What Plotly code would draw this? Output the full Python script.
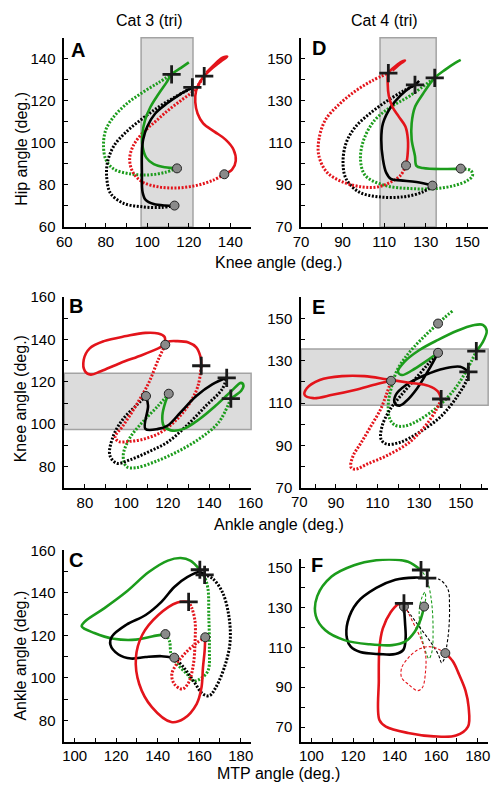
import plotly.graph_objects as go

GREEN = "#1c9c1c"
RED = "#e3141b"
BLACK = "#000000"
FONT = "Liberation Sans, Arial, sans-serif"

# ---------------- Panel A (Cat 3): knee (x) vs hip (y) ----------------
a_grn_sol_x = [114.3,108.5,103.1,99.5,97.7,97.7,98.9,101.5,105.4,109.2,111.7,116.2,120.0]
a_grn_sol_y = [87.9,88.4,89.9,93.0,98.4,104.7,110.9,117.1,123.3,128.7,132.6,135.7,138.3]
a_grn_dot_x = [114.3,108.5,100.8,91.5,83.8,80.0,78.9,80.0,83.8,90.0,97.7,105.4,111.7]
a_grn_dot_y = [87.9,86.0,84.8,85.3,87.6,92.2,99.2,106.2,112.4,118.6,124.0,128.7,132.6]
a_blk_sol_x = [113.1,108.5,103.1,99.2,97.7,97.4,97.4,98.0,100.0,103.8,109.2,115.4,121.7]
a_blk_sol_y = [70.2,70.2,70.9,72.9,76.7,86.0,95.3,101.6,107.8,114.0,118.6,122.9,126.4]
a_blk_dot_x = [113.1,106.9,97.7,88.5,82.3,80.5,80.8,83.8,90.0,97.7,105.4,113.1,121.7]
a_blk_dot_y = [70.2,69.3,69.6,71.3,76.0,82.9,90.7,98.4,105.4,111.6,117.1,121.7,126.4]
a_red_sol_x = [137.1,140.8,142.6,141.5,137.7,132.3,126.9,124.2,123.1,123.5,125.4,127.4,131.5,135.4,138.5,136.0,132.0,128.5]
a_red_sol_y = [85.1,87.3,91.5,96.9,101.6,105.4,109.3,114.0,119.4,124.8,129.1,131.8,135.7,138.8,141.1,140.5,137.0,133.5]
a_red_dot_x = [137.1,131.5,123.8,114.6,105.4,97.7,93.1,91.5,93.1,97.7,103.8,110.0,116.2,122.3,127.4]
a_red_dot_y = [85.1,82.2,79.8,78.6,79.1,81.4,86.0,92.2,98.4,104.7,110.1,115.5,120.2,124.8,131.8]
a_circ_x = [114.3,113.1,137.1]
a_circ_y = [87.9,70.2,85.1]
a_plus_x = [111.7,121.7,127.4]
a_plus_y = [132.6,126.4,131.8]

# ---------------- Panel D (Cat 4): knee vs hip ----------------
d_red_sol_x = [120.5,121.2,121.4,120.2,117.1,114.0,112.2,111.7,112.0,114.8,117.8,120.0,117.5,114.0]
d_red_sol_y = [99.3,103.8,111.6,117.8,122.4,127.1,132.5,137.9,143.2,146.0,148.3,149.2,147.5,144.4]
d_red_dot_x = [120.5,117.8,113.2,107.1,99.4,90.2,82.5,78.6,78.6,81.7,88.6,96.3,104.0,112.0]
d_red_dot_y = [99.3,94.5,91.4,89.1,89.1,91.4,96.0,103.8,111.6,120.9,128.6,134.8,139.5,143.2]
d_blk_sol_x = [133.2,125.5,117.8,113.2,110.9,109.4,108.6,109.4,113.2,117.8,122.5,124.8,126.8]
d_blk_sol_y = [89.7,91.4,92.2,92.9,96.0,102.2,111.6,119.3,127.1,132.5,136.4,137.6,139.5]
d_blk_dot_x = [133.2,128.6,119.4,107.1,97.8,91.7,90.2,91.7,96.3,104.0,111.7,119.4,124.8]
d_blk_dot_y = [89.7,86.7,84.4,84.4,86.7,92.9,100.7,110.0,117.8,124.7,130.2,134.8,137.6]
d_grn_sol_x = [146.8,137.8,128.6,125.5,124.8,123.2,123.2,124.8,128.6,134.3,139.4,144.0,146.8]
d_grn_sol_y = [97.8,97.6,98.1,99.1,103.8,111.6,119.3,127.1,133.3,141.0,144.9,148.0,149.5]
d_grn_dot_x = [146.8,151.7,152.5,150.2,144.0,134.8,122.5,110.2,100.9,98.6,100.2,105.5,113.2,122.5,134.3]
d_grn_dot_y = [97.8,96.8,94.5,92.2,89.8,88.3,88.3,89.8,94.5,102.2,111.6,120.9,127.1,132.5,141.0]
d_circ_x = [146.8,133.2,120.5]
d_circ_y = [97.8,89.7,99.3]
d_plus_x = [134.3,124.8,112.0]
d_plus_y = [141.0,137.6,143.2]

# ---------------- Panel B (Cat 3): ankle vs knee ----------------
b_red_sol_x = [136.2,135.8,133.8,130.0,124.6,120.0,118.8,118.5,115.4,109.2,100.0,89.2,82.3,79.4,80.0,82.8,87.7,96.9,107.7,115.4,118.8]
b_red_sol_y = [127.6,131.9,136.3,138.6,139.2,138.9,137.5,141.2,142.8,143.1,141.6,139.2,135.8,130.4,125.0,123.4,125.0,128.8,132.7,135.8,137.5]
b_red_dot_x = [118.8,115.4,110.8,104.6,98.5,94.6,96.2,101.5,109.2,116.9,124.6,130.8,134.6,136.2]
b_red_dot_y = [137.5,130.4,119.5,108.7,99.4,94.0,91.9,91.9,93.2,96.3,102.5,110.2,118.0,127.6]
b_blk_sol_x = [109.5,110.5,109.2,115.4,120.0,126.2,133.8,141.5,148.5]
b_blk_sol_y = [113.3,108.7,97.8,97.8,99.4,105.6,113.3,118.8,121.9]
b_blk_dot_x = [109.5,104.6,98.5,93.8,92.0,95.4,101.5,110.8,120.0,129.2,138.5,146.2,148.5]
b_blk_dot_y = [113.3,108.7,102.5,94.7,85.4,81.6,83.1,87.0,91.6,99.4,108.7,116.4,121.9]
b_grn_sol_x = [120.5,118.8,117.4,118.0,121.5,127.7,135.4,143.1,150.8,155.4,156.6,155.4,152.3,150.5]
b_grn_sol_y = [114.4,110.2,104.0,99.4,97.1,97.8,102.5,108.7,115.7,119.5,118.3,115.7,113.3,112.1]
b_grn_dot_x = [120.5,115.4,107.7,101.5,98.5,100.0,104.6,113.8,124.6,135.4,144.6,150.5]
b_grn_dot_y = [114.4,108.7,100.9,93.2,85.4,80.0,79.5,82.3,87.0,93.2,100.9,112.1]
b_circ_x = [120.5,109.5,118.8]
b_circ_y = [114.4,113.3,137.5]
b_plus_x = [150.5,148.5,136.2]
b_plus_y = [112.1,121.9,127.6]

# ---------------- Panel E (Cat 4): ankle vs knee ----------------
e_red_sol_x = [116.5,109.8,99.1,88.3,79.1,74.9,76.0,82.2,92.9,103.7,114.5,125.2,134.5,139.1,140.6]
e_red_sol_y = [120.5,119.0,116.2,113.9,112.3,113.9,117.0,120.9,122.7,122.7,121.2,119.6,118.1,115.4,111.9]
e_red_dot_x = [140.6,138.3,132.9,125.2,114.5,105.2,99.1,97.2,98.3,102.2,106.8,111.4,114.5,116.5]
e_red_dot_y = [111.9,106.9,99.1,91.4,85.2,81.3,78.7,79.8,85.2,91.4,99.1,106.9,114.7,120.5]
e_blk_sol_x = [153.7,149.8,142.2,132.9,123.7,118.8,118.3,120.6,123.7,129.1,134.5,139.1]
e_blk_sol_y = [124.7,127.1,126.3,123.2,118.5,113.9,110.0,108.8,110.8,117.0,125.5,133.7]
e_blk_dot_x = [139.1,134.5,128.3,122.2,116.0,112.2,111.7,114.5,120.6,129.8,140.6,148.3,152.9,153.7]
e_blk_dot_y = [133.7,128.6,121.6,114.7,106.9,99.1,92.9,90.6,91.4,96.0,103.8,113.1,120.9,124.7]
e_grn_sol_x = [157.5,160.6,162.5,160.6,156.0,148.3,139.1,129.8,122.9,119.8,121.8,126.8,132.9,139.1]
e_grn_sol_y = [134.5,138.7,144.1,146.9,146.7,144.1,139.8,134.8,129.4,124.7,123.2,125.5,129.4,133.7]
e_grn_dot_x = [146.0,142.2,139.1,133.7,127.5,122.9,119.4,116.8,115.2,115.7,118.3,122.9,129.8,139.1,146.8,152.9,157.5]
e_grn_dot_y = [153.4,150.3,147.5,142.6,136.4,130.9,125.5,117.8,110.0,103.0,99.6,99.1,101.9,108.4,116.2,125.5,134.5]
e_circ_x = [139.1,139.1,116.5]
e_circ_y = [147.5,133.7,120.5]
e_plus_x = [157.5,153.7,140.6]
e_plus_y = [134.5,124.7,111.9]

# ---------------- Panel C (Cat 3): MTP vs ankle ----------------
c_grn_sol_x = [160.3,155.7,151.1,144.9,135.7,124.9,114.2,104.9,103.4,109.5,118.8,129.5,137.2,143.7]
c_grn_sol_y = [150.9,155.2,156.4,155.2,149.8,140.5,132.7,126.5,124.2,121.1,118.4,118.0,119.5,120.6]
c_grn_dot_x = [143.7,145.7,146.5,149.5,154.2,157.2,160.3,164.2,164.9,164.6,164.2,162.6,160.3]
c_grn_dot_y = [120.6,117.2,111.0,106.4,101.7,98.6,99.4,103.3,114.1,129.6,142.0,147.4,150.9]
c_blk_sol_x = [162.6,160.3,154.2,148.0,141.8,134.2,124.9,118.0,117.2,121.1,127.2,134.2,141.8,148.0]
c_blk_sol_y = [148.5,149.8,147.4,142.8,135.8,129.6,125.0,119.5,115.7,111.0,109.1,109.8,110.2,109.5]
c_blk_dot_x = [148.0,152.6,157.2,161.8,164.9,168.0,172.6,174.9,174.2,171.1,166.5,162.6]
c_blk_dot_y = [109.5,104.8,98.6,92.4,91.6,95.5,106.4,117.2,129.6,140.5,146.7,148.5]
c_red_sol_x = [154.9,149.5,140.3,132.6,129.5,131.1,137.2,146.5,152.6,158.8,161.1,161.8,162.6,162.9]
c_red_sol_y = [135.8,135.5,129.6,120.3,109.5,97.1,86.2,79.2,80.8,87.8,95.5,104.8,112.6,119.1]
c_red_dot_x = [162.9,158.8,154.2,149.5,146.8,148.0,151.8,154.9,157.2,158.0,158.0,156.5,154.9]
c_red_dot_y = [119.1,116.4,112.6,107.1,101.7,97.1,94.7,97.8,106.4,117.2,126.5,132.7,135.8]
c_circ_x = [143.7,148.0,162.9]
c_circ_y = [120.6,109.5,119.1]
c_plus_x = [160.3,162.6,154.9]
c_plus_y = [150.9,148.5,135.8]

# ---------------- Panel F (Cat 4): MTP vs ankle ----------------
f_grn_sol_x = [152.6,146.5,140.4,131.2,120.5,109.7,102.8,102.1,106.7,115.9,128.1,138.9,145.0,149.6,152.6,154.2]
f_grn_sol_y = [148.7,152.8,153.9,153.6,151.1,145.4,135.6,125.8,118.5,113.6,111.5,111.1,112.8,117.7,124.2,130.4]
f_grn_dot_x = [154.2,154.9,154.6,153.4,151.9,152.6,154.9,156.5,158.0,158.5,158.0,156.5,154.9,152.6]
f_grn_dot_y = [130.4,134.0,137.6,135.6,129.1,117.7,107.9,104.3,107.9,117.7,130.7,140.5,145.4,148.7]
f_blk_sol_x = [155.7,149.6,140.4,131.2,122.0,117.4,117.1,118.9,123.5,132.7,140.4,144.2,145.3,145.0,144.5]
f_blk_sol_y = [144.6,144.9,143.8,139.7,132.4,122.6,114.4,110.3,107.6,106.6,106.6,108.7,114.4,122.6,130.4]
f_blk_dot_x = [144.5,148.0,152.6,157.2,161.1,162.6,163.7,164.9,166.1,166.4,165.7,161.8,155.7]
f_blk_dot_y = [130.4,125.8,119.3,112.8,106.2,102.2,103.8,109.5,119.3,130.7,138.9,143.8,144.6]
f_red_sol_x = [144.5,141.9,138.1,134.3,132.7,132.4,132.7,135.8,146.5,158.8,169.5,175.3,175.6,174.1,171.0,168.0,164.4]
f_red_sol_y = [132.0,131.6,127.5,119.3,109.5,93.2,73.6,70.3,67.1,65.4,65.8,70.3,80.1,88.3,96.4,103.0,107.1]
f_red_dot_x = [164.4,160.3,155.7,151.1,146.5,143.4,143.4,146.5,151.1,153.4,154.9,154.9,152.6,149.6,146.5,144.5]
f_red_dot_y = [107.1,109.5,110.3,108.7,104.6,99.7,94.8,91.6,88.3,89.9,98.1,106.2,114.4,120.9,127.5,132.0]
f_circ_x = [154.2,144.5,164.4]
f_circ_y = [130.4,130.4,107.1]
f_plus_x = [152.7,155.7,144.5]
f_plus_y = [148.7,144.6,132.0]

# shaded joint ranges
a_shade_x = [97, 122]
d_shade_x = [108, 135]
b_shade_y = [97.5, 124]
e_shade_y = [109, 135.5]

# axis ranges and tick labels
a_xr, a_yr, a_xt, a_yt = [60, 150], [60, 150], [60, 80, 100, 120, 140], [60, 80, 100, 120, 140]
d_xr, d_yr, d_xt, d_yt = [70, 160], [70, 160], [70, 90, 110, 130, 150], [70, 90, 110, 130, 150]
b_xr, b_yr, b_xt, b_yt = [70, 160.3], [70, 160], [80, 100, 120, 140, 160], [80, 100, 120, 140, 160]
e_xr, e_yr, e_xt, e_yt = [73.2, 163.2], [70, 160], [90, 110, 130, 150], [70, 90, 110, 130, 150]
c_xr, c_yr, c_xt, c_yt = [95, 185], [70, 160], [100, 120, 140, 160, 180], [80, 100, 120, 140, 160]
f_xr, f_yr, f_xt, f_yt = [95, 185], [62.8, 154.4], [100, 120, 140, 160, 180], [70, 90, 110, 130, 150]

# The page body has an 8px default margin: the figure is drawn from (8, 8).
OFF = 8
W, H = 496, 780

def PX(p):
    return (p - OFF) / W

def PY(p):
    return 1 - (p - OFF) / H

LX = [PX(58.3), PX(253)]
RX = [PX(305), PX(500)]
R1 = [PY(222.7), PY(29.3)]
R2 = [PY(489.3), PY(294.3)]
R3 = [PY(748.7), PY(553.3)]
R3F = [PY(748.7), PY(561.7)]

fig = go.Figure()

def add_panel(k, series, cx, cy, px, py, thin_dots=False):
    xa, ya = "x" + ("" if k == 1 else str(k)), "y" + ("" if k == 1 else str(k))
    for (x, y, color, style) in series:
        if style == "dot":
            if thin_dots:
                line = dict(color=color, width=1.1, dash="3px,2px", shape="spline", smoothing=1.0)
            else:
                line = dict(color=color, width=3, dash="2px,1.6px", shape="spline", smoothing=1.0)
        else:
            line = dict(color=color, width=2.6, shape="spline", smoothing=1.0)
        fig.add_trace(go.Scatter(x=x, y=y, mode="lines", line=line, xaxis=xa, yaxis=ya,
                                 hoverinfo="skip", showlegend=False))
    fig.add_trace(go.Scatter(x=cx, y=cy, mode="markers", xaxis=xa, yaxis=ya, showlegend=False,
                             marker=dict(symbol="circle", size=9, color="#8a8a8a",
                                         line=dict(color="#222222", width=1))))
    fig.add_trace(go.Scatter(x=px, y=py, mode="markers", xaxis=xa, yaxis=ya, showlegend=False,
                             marker=dict(symbol="cross-thin", size=13,
                                         line=dict(color="#1a1a1a", width=2.8))))

add_panel(1, [(a_grn_dot_x, a_grn_dot_y, GREEN, "dot"), (a_blk_dot_x, a_blk_dot_y, BLACK, "dot"),
              (a_red_dot_x, a_red_dot_y, RED, "dot"), (a_grn_sol_x, a_grn_sol_y, GREEN, "sol"),
              (a_blk_sol_x, a_blk_sol_y, BLACK, "sol"), (a_red_sol_x, a_red_sol_y, RED, "sol")],
          a_circ_x, a_circ_y, a_plus_x, a_plus_y)
add_panel(2, [(b_grn_dot_x, b_grn_dot_y, GREEN, "dot"), (b_blk_dot_x, b_blk_dot_y, BLACK, "dot"),
              (b_red_dot_x, b_red_dot_y, RED, "dot"), (b_grn_sol_x, b_grn_sol_y, GREEN, "sol"),
              (b_blk_sol_x, b_blk_sol_y, BLACK, "sol"), (b_red_sol_x, b_red_sol_y, RED, "sol")],
          b_circ_x, b_circ_y, b_plus_x, b_plus_y)
add_panel(3, [(c_grn_dot_x, c_grn_dot_y, GREEN, "dot"), (c_blk_dot_x, c_blk_dot_y, BLACK, "dot"),
              (c_red_dot_x, c_red_dot_y, RED, "dot"), (c_grn_sol_x, c_grn_sol_y, GREEN, "sol"),
              (c_blk_sol_x, c_blk_sol_y, BLACK, "sol"), (c_red_sol_x, c_red_sol_y, RED, "sol")],
          c_circ_x, c_circ_y, c_plus_x, c_plus_y)
add_panel(4, [(d_grn_dot_x, d_grn_dot_y, GREEN, "dot"), (d_blk_dot_x, d_blk_dot_y, BLACK, "dot"),
              (d_red_dot_x, d_red_dot_y, RED, "dot"), (d_grn_sol_x, d_grn_sol_y, GREEN, "sol"),
              (d_blk_sol_x, d_blk_sol_y, BLACK, "sol"), (d_red_sol_x, d_red_sol_y, RED, "sol")],
          d_circ_x, d_circ_y, d_plus_x, d_plus_y)
add_panel(5, [(e_grn_dot_x, e_grn_dot_y, GREEN, "dot"), (e_blk_dot_x, e_blk_dot_y, BLACK, "dot"),
              (e_red_dot_x, e_red_dot_y, RED, "dot"), (e_grn_sol_x, e_grn_sol_y, GREEN, "sol"),
              (e_blk_sol_x, e_blk_sol_y, BLACK, "sol"), (e_red_sol_x, e_red_sol_y, RED, "sol")],
          e_circ_x, e_circ_y, e_plus_x, e_plus_y)
add_panel(6, [(f_grn_dot_x, f_grn_dot_y, GREEN, "dot"), (f_blk_dot_x, f_blk_dot_y, BLACK, "dot"),
              (f_red_dot_x, f_red_dot_y, RED, "dot"), (f_red_sol_x, f_red_sol_y, RED, "sol"),
              (f_blk_sol_x, f_blk_sol_y, BLACK, "sol"), (f_grn_sol_x, f_grn_sol_y, GREEN, "sol")],
          f_circ_x, f_circ_y, f_plus_x, f_plus_y, thin_dots=True)

def axis(domain, rng, ticks, anchor, minor0, standoff):
    return dict(domain=domain, range=rng, tickvals=ticks, anchor=anchor,
                showline=True, linecolor="black", linewidth=1.5, mirror=False,
                ticks="inside", ticklen=4, tickwidth=1.2, tickcolor="black",
                minor=dict(tick0=minor0, dtick=10, ticks="inside", ticklen=4, tickwidth=1.2, tickcolor="black"),
                showgrid=False, zeroline=False, tickfont=dict(family=FONT, size=15, color="black"),
                ticklabelstandoff=standoff, fixedrange=True)

layout = dict(
    width=W, height=H, margin=dict(l=0, r=0, t=0, b=0),
    paper_bgcolor="white", plot_bgcolor="white", showlegend=False,
    font=dict(family=FONT, size=15, color="black"),
    xaxis=axis(LX, a_xr, a_xt, "y", 60, 0), yaxis=axis(R1, a_yr, a_yt, "x", 60, 4),
    xaxis2=axis(LX, b_xr, b_xt, "y2", 70, 0), yaxis2=axis(R2, b_yr, b_yt, "x2", 70, 4),
    xaxis3=axis(LX, c_xr, c_xt, "y3", 90, 0), yaxis3=axis(R3, c_yr, c_yt, "x3", 70, 4),
    xaxis4=axis(RX, d_xr, d_xt, "y4", 70, 0), yaxis4=axis(R1, d_yr, d_yt, "x4", 70, 4),
    xaxis5=axis(RX, e_xr, e_xt, "y5", 70, 0), yaxis5=axis(R2, e_yr, e_yt, "x5", 70, 4),
    xaxis6=axis(RX, f_xr, f_xt, "y6", 90, 0), yaxis6=axis(R3F, f_yr, f_yt, "x6", 70, 4),
)
fig.update_layout(**layout)

shade = dict(type="rect", layer="below", fillcolor="#dcdcdc", line=dict(color="#a3a3a3", width=1.5))
fig.add_shape(xref="x", yref="y domain", x0=a_shade_x[0], x1=a_shade_x[1], y0=0, y1=1, **shade)
fig.add_shape(xref="x4", yref="y4 domain", x0=d_shade_x[0], x1=d_shade_x[1], y0=0, y1=1, **shade)
fig.add_shape(xref="x2 domain", yref="y2", x0=0, x1=1, y0=b_shade_y[0], y1=b_shade_y[1], **shade)
fig.add_shape(xref="x5 domain", yref="y5", x0=0, x1=1, y0=e_shade_y[0], y1=e_shade_y[1], **shade)

def ann(text, x, y, size=16, bold=False, angle=0, xanchor="center", yanchor="middle"):
    fig.add_annotation(text=("<b>%s</b>" % text) if bold else text, x=x, y=y, xref="paper", yref="paper",
                       showarrow=False, textangle=angle, xanchor=xanchor, yanchor=yanchor,
                       font=dict(family=FONT, size=size, color="black"))

ann("Cat 3 (tri)", PX(147), PY(12))
ann("Cat 4 (tri)", PX(392), PY(12))
ann("Knee angle (deg.)", PX(282), PY(259))
ann("Ankle angle (deg.)", PX(282), PY(527))
ann("MTP angle (deg.)", PX(282), PY(781))
ann("Hip angle (deg.)", PX(13), PY(143), angle=-90)
ann("Knee angle (deg.)", PX(13), PY(398), angle=-90)
ann("Ankle angle (deg.)", PX(13), PY(661), angle=-90)
ann("70", PX(303), PY(503), size=15)
for letter, px_, py_ in [("A", 73, 42), ("D", 324, 40), ("B", 70, 303), ("E", 323, 304), ("C", 71, 563), ("F", 322, 568)]:
    ann(letter, PX(px_), PY(py_), size=20, bold=True)

fig.write_html("out.html")
